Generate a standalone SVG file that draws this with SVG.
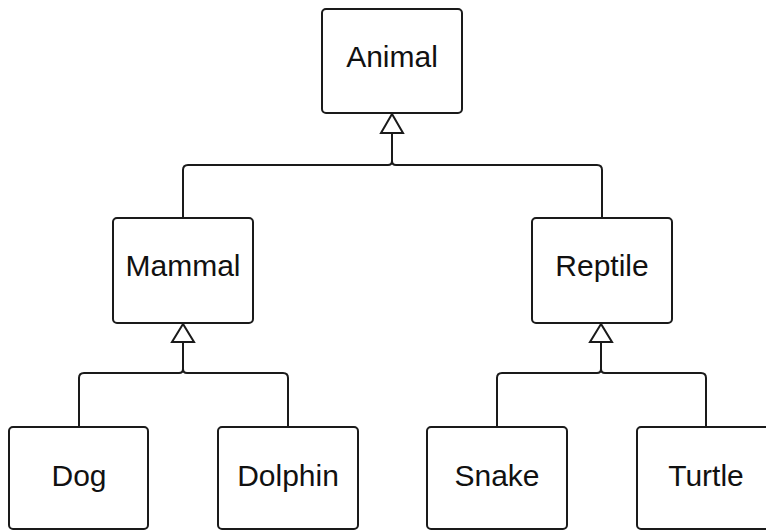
<svg xmlns="http://www.w3.org/2000/svg" width="766" height="531" viewBox="0 0 766 531">
<style>
.box{fill:#fff;stroke:#1a1a1a;stroke-width:2;}
.lbl{font-family:"Liberation Sans",Arial,sans-serif;font-size:30px;fill:#111;text-anchor:middle;}
.conn{fill:none;stroke:#1a1a1a;stroke-width:2;}
.tri{fill:#fff;stroke:#1a1a1a;stroke-width:2;stroke-linejoin:miter;}
</style>
<rect width="766" height="531" fill="#fff"/>
<g id="connectors">
<path class="conn" d="M183,218 V170 Q183,165 188,165 H388 Q392,165 392,161 V133"/>
<path class="conn" d="M602,218 V170 Q602,165 597,165 H396 Q392,165 392,161"/>
<polygon class="tri" points="392,114 381,133 403,133"/>
<path class="conn" d="M79,427 V378 Q79,373 84,373 H179 Q183,373 183,369 V342"/>
<path class="conn" d="M288,427 V378 Q288,373 283,373 H187 Q183,373 183,369"/>
<polygon class="tri" points="183,324 172,342 194,342"/>
<path class="conn" d="M497,427 V378 Q497,373 502,373 H597 Q601,373 601,369 V342"/>
<path class="conn" d="M706,427 V378 Q706,373 701,373 H605 Q601,373 601,369"/>
<polygon class="tri" points="601,324 590,342 612,342"/>
</g>
<g id="animal"><rect class="box" x="322" y="9" width="140" height="104" rx="4"/><text class="lbl" x="392" y="67">Animal</text></g>
<g id="mammal"><rect class="box" x="113" y="218" width="140" height="105" rx="4"/><text class="lbl" x="183" y="276">Mammal</text></g>
<g id="reptile"><rect class="box" x="532" y="218" width="140" height="105" rx="4"/><text class="lbl" x="602" y="276">Reptile</text></g>
<g id="dog"><rect class="box" x="9" y="427" width="139" height="102" rx="4"/><text class="lbl" x="79" y="486">Dog</text></g>
<g id="dolphin"><rect class="box" x="218" y="427" width="140" height="102" rx="4"/><text class="lbl" x="288" y="486">Dolphin</text></g>
<g id="snake"><rect class="box" x="427" y="427" width="140" height="102" rx="4"/><text class="lbl" x="497" y="486">Snake</text></g>
<g id="turtle"><rect class="box" x="637" y="427" width="140" height="102" rx="4"/><text class="lbl" x="706" y="486">Turtle</text></g>
</svg>
